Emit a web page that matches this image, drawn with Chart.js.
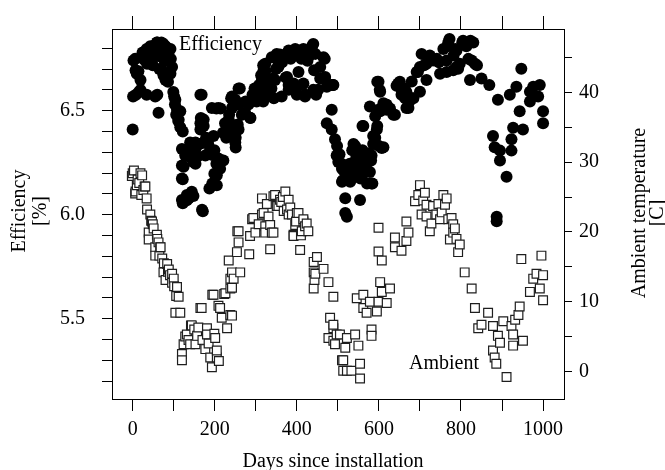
<!DOCTYPE html>
<html>
<head>
<meta charset="utf-8">
<script src="https://cdn.jsdelivr.net/npm/chart.js@4.4.0/dist/chart.umd.min.js"></script>
<style>
html,body{margin:0;padding:0;background:#fff;}
canvas{display:block;}
</style>
</head>
<body>
<canvas id="c" width="665" height="470"></canvas>
<script>
// ---- data ----
// Efficiency [%] vs days since installation
const efficiencySeries = [
 [0,6.41],[1,6.568],[8,6.576],[15,6.59],[19,6.6],[6,6.749],[2,6.741],[7,6.694],[10,6.678],[14,6.69],[19,6.647],[24,6.78],
 [31,6.773],[34,6.796],[35,6.726],[39,6.765],[43,6.81],[49,6.81],[51,6.757],[59,6.828],[60,6.828],[65,6.70],[70,6.828],
 [71,6.694],[75,6.82],[75,6.67],[80,6.81],[80,6.647],[86,6.78],[88,6.749],[92,6.796],[92,6.678],[93,6.749],[96,6.71],
 [86,6.639],[49,6.718],[41,6.74],[34,6.576],[55,6.568],[60,6.576],[63,6.49],[99,6.59],[101,6.568],[28,6.745],[45,6.79],
 [55,6.8],[65,6.81],[85,6.8],[68,6.76],[78,6.74],
 [103,6.53],[104,6.552],[106,6.48],[108,6.505],[111,6.45],[112,6.457],[116,6.497],[116,6.42],[122,6.40],[120,6.316],
 [128,6.284],[124,6.23],[120,6.237],[122,6.17],[120,6.174],[122,6.055],[120,6.071],[132,6.07],[132,6.095],[137,6.08],
 [144,6.11],[148,6.09],[132,6.31],[137,6.28],[140,6.347],[148,6.253],[148,6.26],[153,6.245],[153,6.316],[153,6.347],
 [158,6.28],[165,6.576],[168,6.576],[165,6.44],[166,6.465],[165,6.41],[173,6.457],[173,6.426],[173,6.347],[177,6.284],
 [179,6.37],[184,6.34],[182,6.29],[189,6.30],[171,6.016],[169,6.024],[187,6.126],[194,6.15],[199,6.197],[204,6.245],
 [209,6.27],[193,6.513],[204,6.51],[209,6.513],[214,6.51],[197,6.378],[199,6.31],[194,6.287],[163,6.34],[205,6.19],
 [205,6.142],[213,6.221],[221,6.26],
 [220,6.394],[225,6.44],[234,6.457],[235,6.48],[238,6.426],[240,6.434],[242,6.568],[242,6.513],[246,6.40],[250,6.347],
 [250,6.552],[251,6.323],[251,6.37],[256,6.434],[258,6.53],[258,6.41],[258,6.607],[261,6.607],[266,6.48],[274,6.49],
 [275,6.544],[282,6.53],[286,6.466],[287,6.465],[292,6.576],[297,6.607],[299,6.568],[302,6.544],[246,6.53],[240,6.56],
 [230,6.40],[228,6.37],
 [307,6.607],[308,6.623],[313,6.67],[315,6.647],[318,6.718],[318,6.544],[318,6.59],[319,6.694],[323,6.69],[323,6.726],
 [328,6.64],[331,6.576],[331,6.631],[338,6.607],[339,6.757],[342,6.655],[344,6.56],[347,6.647],[349,6.70],[351,6.773],
 [354,6.74],[355,6.71],[359,6.77],[363,6.568],[364,6.733],[367,6.765],[369,6.765],[373,6.66],[376,6.662],[380,6.623],
 [380,6.789],[380,6.6],[385,6.749],[390,6.78],[392,6.631],[395,6.765],[396,6.797],[398,6.607],[400,6.576],[404,6.686],
 [405,6.789],[411,6.749],[413,6.623],[416,6.797],[416,6.631],[420,6.568],[421,6.576],[426,6.74],[431,6.765],[437,6.81],
 [440,6.82],[440,6.6],[442,6.694],[445,6.773],[447,6.576],[452,6.6],[457,6.655],[457,6.71],[465,6.757],[468,6.749],
 [468,6.655],[469,6.662],[473,6.615],[485,6.623],[488,6.623],[473,6.44],[485,6.505],[485,6.41],[493,6.363],[497,6.284],
 [498,6.33],[501,6.253],[504,6.29],[489,6.623],
 [509,6.245],[510,6.221],[510,6.158],[512,6.166],[513,6.237],[514,6.213],[518,6.079],[518,6.008],[522,5.99],[524,6.205],
 [526,6.221],[529,6.245],[530,6.158],[535,6.31],[538,6.34],[540,6.323],[542,6.33],[543,6.197],[545,6.276],[550,6.229],
 [554,6.284],[554,6.071],[555,6.174],[558,6.182],[560,6.426],[562,6.426],[560,6.31],[565,6.276],[566,6.26],[568,6.213],
 [570,6.245],[571,6.15],[576,6.295],[578,6.205],[578,6.52],[578,6.29],[581,6.26],[582,6.284],[582,6.15],[584,6.15],
 [586,6.34],[586,6.378],[591,6.37],[591,6.473],[595,6.41],[596,6.426],[596,6.639],[599,6.331],[599,6.505],[599,6.639],
 [602,6.6],
 [603,6.591],[603,6.497],[607,6.32],[611,6.536],[611,6.324],[617,6.53],[619,6.505],[619,6.528],[627,6.51],[635,6.48],
 [639,6.48],[643,6.62],[647,6.631],[651,6.639],[655,6.576],[655,6.6],[663,6.607],[664,6.56],[667,6.59],[667,6.513],
 [672,6.513],[674,6.544],[680,6.56],[684,6.56],[680,6.64],[692,6.686],[695,6.686],[700,6.591],[700,6.71],[704,6.773],
 [710,6.718],[716,6.726],[716,6.647],[720,6.749],[724,6.765],[732,6.741],[741,6.749],[746,6.733],[749,6.678],[757,6.796],
 [765,6.741],[765,6.686],[767,6.81],[769,6.828],[772,6.844],[781,6.694],[782,6.765],[786,6.797],[789,6.789],[789,6.71],
 [793,6.702],[797,6.726],
 [803,6.828],[805,6.836],[813,6.81],[818,6.749],[822,6.647],[823,6.836],[826,6.741],[830,6.828],[834,6.726],[839,6.718],
 [850,6.655],[869,6.623],[878,6.378],[882,6.324],[887,5.99],[887,5.968],[890,6.552],[895,6.308],[895,6.26],[911,6.182],
 [919,6.576],[923,6.363],[923,6.308],[927,6.418],[935,6.615],[943,6.497],[947,6.702],[951,6.41],[968,6.591],[968,6.544],
 [976,6.615],[988,6.568],[992,6.623],[1000,6.497],[1000,6.44]
];

// Ambient temperature [C] vs days since installation
const ambientSeries = [
 [-2,28.0],[0,28.4],[3,28.8],[6,25.5],[7,25.8],[10,26.7],[12,27.5],[16,27.0],[19,28.4],[21,25.3],[23,28.1],[26,26.0],
 [29,26.5],[31,26.5],[34,24.8],[35,23.2],[39,19.9],[39,18.9],[43,22.5],[45,21.6],[47,21.5],[49,21.1],[51,20.5],[55,17.8],
 [55,16.6],[59,19.6],[60,19.0],[63,18.5],[65,16.6],[67,17.8],[68,17.8],[72,16.2],[75,14.2],[76,15.5],[80,13.1],[84,15.4],
 [86,14.3],[88,14.6],[91,13.8],[96,14.0],[96,12.7],[100,13.3],[101,12.2],[104,8.4],[106,10.8],[108,12.1],[112,10.7],
 [116,8.4],[120,2.5],[120,1.6],[124,3.9],
 [128,5.0],[132,5.3],[136,4.5],[140,3.9],[142,6.6],[144,6.6],[150,6.0],[153,3.9],[157,5.1],[160,6.3],[165,9.1],[168,9.1],
 [170,4.5],[177,3.2],[181,6.2],[181,5.3],[185,4.0],[189,2.0],[193,0.6],[194,11.0],[197,11.0],[199,5.4],[201,4.8],
 [205,2.0],[205,3.0],[209,9.4],[210,1.5],[213,9.1],[217,7.7],
 [223,11.1],[226,11.2],[230,6.2],[234,15.9],[238,13.3],[238,11.9],[238,8.1],[242,14.2],[242,12.0],[242,8.0],[246,13.3],
 [254,17.1],[255,20.1],[258,18.5],[258,20.1],[262,14.2],[284,16.8],[286,19.4],[291,21.8],[294,22.0],[299,19.9],
 [307,21.1],[315,24.8],[315,22.5],[319,22.7],[323,20.8],[323,19.9],[327,24.0],[331,22.2],[335,17.5],[335,21.0],[339,19.9],
 [343,25.1],[343,19.9],[347,25.3],[351,23.7],[355,23.7],[359,24.6],[362,24.3],[366,25.0],[368,23.0],[372,25.8],[376,23.2],
 [380,24.6],[380,22.5],[384,23.5],[388,22.5],[392,19.6],[392,19.4],[396,21.0],[398,21.5],[400,22.7],[404,22.7],
 [408,17.4],[410,19.5],[412,20.1],[416,21.5],[416,21.8],[420,20.8],[424,21.2],[428,20.1],[441,15.7],[441,14.2],[441,11.9],
 [443,13.1],[445,14.0],[449,16.4],[465,14.7],[477,12.8],[477,4.8],[481,7.7],[489,10.7],[489,6.2],[489,6.7],[489,4.4],
 [493,3.9],[497,5.3],
 [505,5.3],[510,1.6],[513,1.6],[513,0.1],[518,3.4],[522,4.8],[522,0.1],[533,0.1],[542,5.3],[546,10.5],[550,3.7],
 [554,1.1],[554,-1.0],[562,11.0],[562,9.1],[570,8.4],[578,10.0],[582,6.0],[582,5.1],[595,8.6],[599,10.0],[599,20.6],
 [599,17.2],
 [603,12.8],[607,11.4],[607,15.9],[619,9.8],[627,11.9],[639,19.2],[639,17.8],[655,17.3],[667,21.5],[667,18.7],[672,19.9],
 [688,24.4],[696,25.3],[700,26.7],
 [704,22.5],[708,24.5],[712,25.6],[716,23.9],[716,22.2],[724,20.1],[728,21.2],[732,23.7],[740,22.5],[745,24.0],[749,21.8],
 [753,22.8],[757,25.3],[761,23.9],[765,24.8],[769,21.8],[773,18.9],[777,22.0],[781,21.1],[781,19.9],[785,20.5],[789,19.0],
 [793,17.1],[797,18.2],
 [809,14.2],[826,11.9],[834,9.1],[842,6.2],[850,6.7],[866,8.4],[878,6.5],[878,3.0],[882,2.0],[886,1.1],[890,5.1],
 [895,4.1],[903,7.2],[911,-0.8],[923,6.5],[927,5.3],[927,3.7],[932,7.4],[940,8.1],[943,9.3],[947,16.1],[951,4.4],
 [968,11.4],[976,13.3],[984,14.0],[992,11.9],[996,16.6],[1000,10.2],[1000,13.8]
];

// tick positions and tick labels
const xTickValues = [0, 100, 200, 300, 400, 500, 600, 700, 800, 900, 1000];
const xTickLabels = [0, 200, 400, 600, 800, 1000];
const efficiencyTickValues = [5.2, 5.3, 5.4, 5.5, 5.6, 5.7, 5.8, 5.9, 6.0, 6.1, 6.2, 6.3, 6.4, 6.5, 6.6, 6.7, 6.8];
const efficiencyTickLabels = [5.5, 6.0, 6.5];
const ambientTickValues = [0, 5, 10, 15, 20, 25, 30, 35, 40, 45];
const ambientTickLabels = [0, 10, 20, 30, 40];

// ---- chart ----
const FONT = '"Liberation Serif", "Times New Roman", serif';
Chart.defaults.font.family = FONT;
Chart.defaults.font.size = 20;
Chart.defaults.color = '#000';

const X_MIN = -50.4, X_MAX = 1051;
const EFF_MIN = 5.1141, EFF_MAX = 6.8926;
const AMB_MIN = -3.95, AMB_MAX = 49.08;

const gridTicks = (len) => ({
  drawOnChartArea: false, drawTicks: true, tickLength: len,
  color: '#000', lineWidth: 1
});
const frame = { display: true, color: '#000', width: 1 };
const setTicks = (vals) => (s) => { s.ticks = vals.map(v => ({ value: v })); };
const has = (arr, v) => arr.some(t => Math.abs(t - v) < 1e-6);

const textPlugin = {
  id: 'texts',
  afterDraw(chart) {
    const ctx = chart.ctx;
    ctx.save();
    ctx.fillStyle = '#000';
    ctx.font = '20px ' + FONT;
    ctx.textBaseline = 'alphabetic';
    // in-plot series labels
    ctx.textAlign = 'left';
    ctx.fillText('Efficiency', 179, 50);
    ctx.fillText('Ambient', 409, 369);
    // x title
    ctx.textAlign = 'center';
    ctx.fillText('Days since installation', 333, 467);
    // rotated axis titles
    const rot = (t, x, y) => {
      ctx.save(); ctx.translate(x, y); ctx.rotate(-Math.PI / 2);
      ctx.textAlign = 'center'; ctx.fillText(t, 0, 0); ctx.restore();
    };
    rot('Efficiency', 24.5, 211);
    rot('[%]', 46, 211);
    rot('Ambient temperature', 645, 213);
    rot('[C]', 663, 213);
    ctx.restore();
  }
};

new Chart(document.getElementById('c'), {
  type: 'scatter',
  data: {
    datasets: [
      {
        label: 'Ambient',
        data: ambientSeries.map(([x, y]) => ({ x, y })),
        xAxisID: 'x', yAxisID: 'yR',
        pointStyle: 'rect', pointRadius: 6.2,
        backgroundColor: '#ffffff', borderColor: '#1e1e1e', borderWidth: 1.2
      },
      {
        label: 'Efficiency',
        data: efficiencySeries.map(([x, y]) => ({ x, y })),
        xAxisID: 'x', yAxisID: 'yL',
        pointStyle: 'circle', pointRadius: 6,
        backgroundColor: '#000000', borderColor: '#000000', borderWidth: 0
      }
    ]
  },
  options: {
    responsive: false, animation: false, devicePixelRatio: 1, events: [],
    layout: { padding: 0 },
    plugins: { legend: { display: false }, tooltip: { enabled: false } },
    scales: {
      x: {
        type: 'linear', position: 'bottom', min: X_MIN, max: X_MAX,
        afterBuildTicks: setTicks(xTickValues),
        afterFit(s) { s.height = 71; },
        grid: gridTicks(12), border: frame,
        ticks: { padding: 7, maxRotation: 0, minRotation: 0, autoSkip: false,
                 callback: v => has(xTickLabels, v) ? String(v) : '' }
      },
      xTop: {
        type: 'linear', position: 'top', min: X_MIN, max: X_MAX,
        afterBuildTicks: setTicks(xTickValues),
        afterFit(s) { s.height = 23; },
        grid: gridTicks(13), border: frame,
        ticks: { padding: 0, maxRotation: 0, minRotation: 0, autoSkip: false, callback: () => '' }
      },
      yL: {
        type: 'linear', position: 'left', min: EFF_MIN, max: EFF_MAX,
        afterBuildTicks: setTicks(efficiencyTickValues),
        afterFit(s) { s.width = 112; },
        grid: gridTicks(10), border: frame,
        ticks: { padding: 17, autoSkip: false,
                 callback: v => has(efficiencyTickLabels, v) ? v.toFixed(1) : '' }
      },
      yR: {
        type: 'linear', position: 'right', min: AMB_MIN, max: AMB_MAX,
        afterBuildTicks: setTicks(ambientTickValues),
        afterFit(s) { s.width = 101; },
        grid: gridTicks(8), border: frame,
        ticks: { padding: 7, autoSkip: false,
                 callback: v => has(ambientTickLabels, v) ? String(v) : '' }
      }
    }
  },
  plugins: [textPlugin]
});
</script>
</body>
</html>
